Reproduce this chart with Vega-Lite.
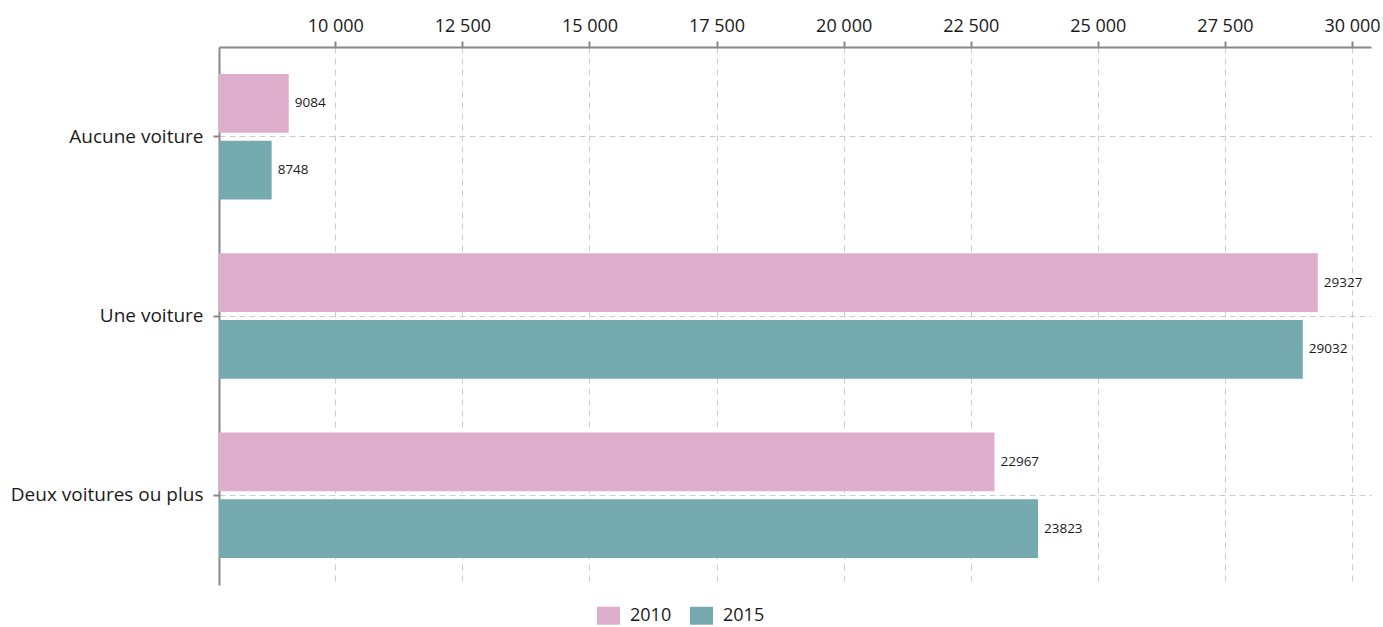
{
  "$schema": "https://vega.github.io/schema/vega-lite/v6.json",
  "width": 1152,
  "height": 538,
  "autosize": {"type": "none"},
  "padding": {"left": 219, "top": 47, "right": 12, "bottom": 42},
  "config": {"view": {"stroke": null}, "font": "Open Sans"},
  "data": {
    "values": [
      {"cat": "Aucune voiture", "year": "2010", "value": 9084},
      {"cat": "Aucune voiture", "year": "2015", "value": 8748},
      {"cat": "Une voiture", "year": "2010", "value": 29327},
      {"cat": "Une voiture", "year": "2015", "value": 29032},
      {"cat": "Deux voitures ou plus", "year": "2010", "value": 22967},
      {"cat": "Deux voitures ou plus", "year": "2015", "value": 23823}
    ]
  },
  "encoding": {
    "y": {
      "field": "cat",
      "type": "nominal",
      "sort": ["Aucune voiture", "Une voiture", "Deux voitures ou plus"],
      "scale": {"paddingInner": 0.3, "paddingOuter": 0.15},
      "axis": {
        "title": null,
        "orient": "left",
        "bandPosition": 0.5,
        "labelFontSize": 19,
        "labelColor": "#1a1a1a",
        "labelPadding": 10,
        "labelLimit": 300,
        "tickSize": 6,
        "tickWidth": 2,
        "tickColor": "#888888",
        "domainColor": "#888888",
        "domainWidth": 2,
        "grid": true,
        "gridColor": "#cccccc",
        "gridDash": [6, 4],
        "gridWidth": 1
      }
    },
    "yOffset": {
      "field": "year",
      "type": "nominal",
      "scale": {"paddingInner": 0.12}
    },
    "x": {
      "field": "value",
      "type": "quantitative",
      "scale": {"domain": [7712, 30374], "nice": false, "zero": false},
      "axis": {
        "title": null,
        "orient": "top",
        "values": [10000, 12500, 15000, 17500, 20000, 22500, 25000, 27500, 30000],
        "labelExpr": "replace(format(datum.value, ','), ',', ' ')",
        "labelFontSize": 18,
        "labelColor": "#1a1a1a",
        "labelPadding": 6,
        "tickSize": 6,
        "tickWidth": 2,
        "tickColor": "#888888",
        "domainColor": "#888888",
        "domainWidth": 2,
        "grid": true,
        "gridColor": "#cccccc",
        "gridDash": [6, 5],
        "gridWidth": 1
      }
    }
  },
  "layer": [
    {
      "mark": {"type": "bar"},
      "encoding": {
        "x2": {"datum": 7712},
        "color": {
          "field": "year",
          "type": "nominal",
          "scale": {"domain": ["2010", "2015"], "range": ["#E0AECD", "#75AAAE"]},
          "legend": {
            "orient": "none",
            "legendX": 378,
            "legendY": 557,
            "direction": "horizontal",
            "title": null,
            "symbolType": "M-1,-0.78H1V0.78H-1Z",
            "symbolSize": 529,
            "symbolStrokeWidth": 0,
            "symbolOpacity": 1,
            "labelFontSize": 18,
            "labelColor": "#1a1a1a",
            "labelOffset": 10,
            "columnPadding": 18,
            "padding": 0
          }
        }
      }
    },
    {
      "mark": {"type": "text", "align": "left", "dx": 6, "fontSize": 13.5, "color": "#1a1a1a"},
      "encoding": {"text": {"field": "value", "type": "quantitative", "format": "d"}}
    }
  ]
}
